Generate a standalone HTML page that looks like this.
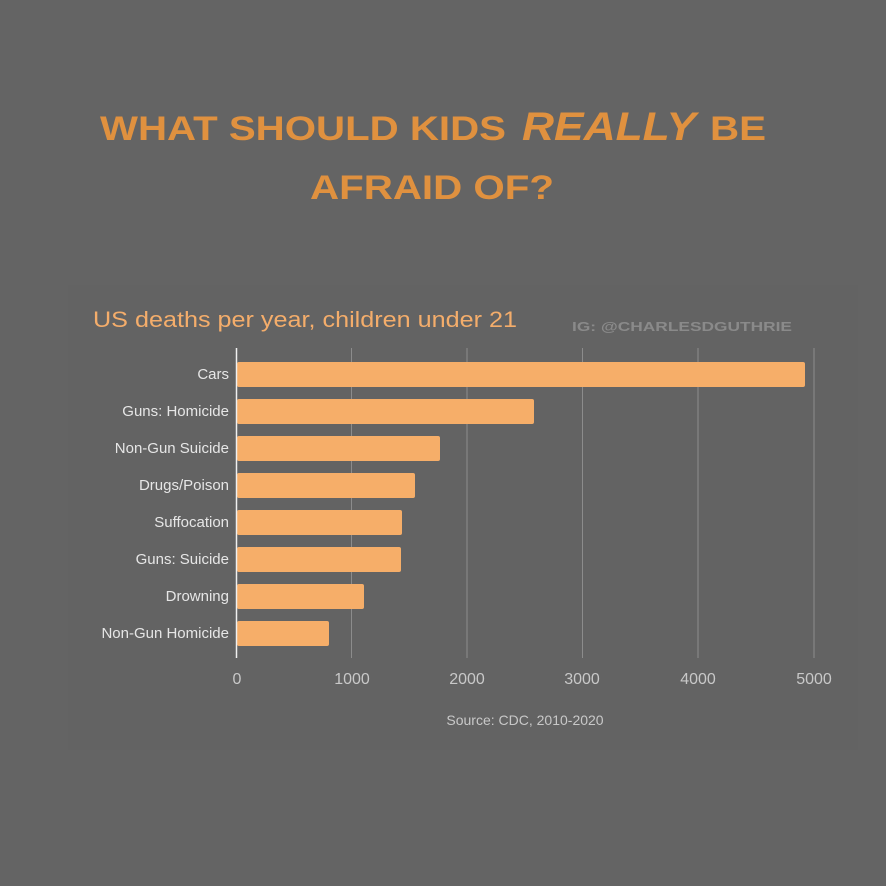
<!DOCTYPE html>
<html><head><style>
body{margin:0;background:#646464;}
svg{display:block}
</style></head><body>
<svg width="886" height="886" viewBox="0 0 886 886" xmlns="http://www.w3.org/2000/svg">
<rect width="886" height="886" fill="#646464"/>
<rect x="68" y="285" width="790" height="465" fill="#636363"/>
<g font-family="Liberation Sans, sans-serif" font-weight="bold" fill="#e0913f">
<text x="100" y="140" font-size="34" textLength="406" lengthAdjust="spacingAndGlyphs">WHAT SHOULD KIDS</text>
<text x="522" y="140" font-size="40" font-style="italic" textLength="174" lengthAdjust="spacingAndGlyphs">REALLY</text>
<text x="710" y="140" font-size="34" textLength="56" lengthAdjust="spacingAndGlyphs">BE</text>
<text x="310" y="199" font-size="34" textLength="244" lengthAdjust="spacingAndGlyphs">AFRAID OF?</text>
</g>
<text x="93" y="327" font-family="Liberation Sans, sans-serif" font-size="22" fill="#f4ad6b" textLength="424" lengthAdjust="spacingAndGlyphs">US deaths per year, children under 21</text>
<text x="572" y="331" font-family="Liberation Sans, sans-serif" font-size="13" font-weight="bold" fill="#8a8a8a" textLength="220" lengthAdjust="spacingAndGlyphs">IG: @CHARLESDGUTHRIE</text>
<g stroke="#8c8c8c" stroke-width="1">
<line x1="351.5" y1="348" x2="351.5" y2="658"/>
<line x1="467" y1="348" x2="467" y2="658"/>
<line x1="582.5" y1="348" x2="582.5" y2="658"/>
<line x1="698" y1="348" x2="698" y2="658"/>
<line x1="814" y1="348" x2="814" y2="658"/>
</g>
<g fill="#f6ae69">
<rect x="237" y="362" width="568" height="25" rx="2"/>
<rect x="237" y="399" width="297" height="25" rx="2"/>
<rect x="237" y="436" width="203" height="25" rx="2"/>
<rect x="237" y="473" width="178" height="25" rx="2"/>
<rect x="237" y="510" width="165" height="25" rx="2"/>
<rect x="237" y="547" width="164" height="25" rx="2"/>
<rect x="237" y="584" width="127" height="25" rx="2"/>
<rect x="237" y="621" width="92" height="25" rx="2"/>
</g>
<line x1="236.5" y1="348" x2="236.5" y2="658" stroke="#f0f0f0" stroke-width="1.5"/>
<g font-family="Liberation Sans, sans-serif" font-size="15" fill="#e6e6e6" text-anchor="end">
<text x="229" y="379">Cars</text>
<text x="229" y="416">Guns: Homicide</text>
<text x="229" y="453">Non-Gun Suicide</text>
<text x="229" y="490">Drugs/Poison</text>
<text x="229" y="527">Suffocation</text>
<text x="229" y="564">Guns: Suicide</text>
<text x="229" y="601">Drowning</text>
<text x="229" y="638">Non-Gun Homicide</text>
</g>
<g font-family="Liberation Sans, sans-serif" font-size="16" fill="#c8c8c8" text-anchor="middle">
<text x="237" y="684">0</text>
<text x="352" y="684">1000</text>
<text x="467" y="684">2000</text>
<text x="582" y="684">3000</text>
<text x="698" y="684">4000</text>
<text x="814" y="684">5000</text>
</g>
<text x="525" y="725" font-family="Liberation Sans, sans-serif" font-size="14" fill="#c8c8c8" text-anchor="middle">Source: CDC, 2010-2020</text>
</svg>
</body></html>
